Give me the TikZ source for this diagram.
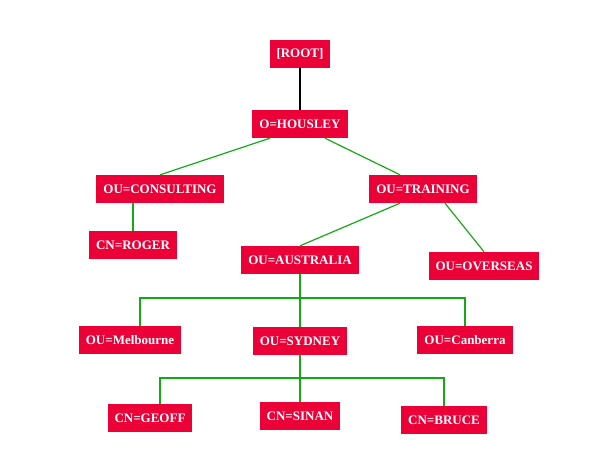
\documentclass[tikz,border=0pt]{standalone}
\usepackage{fontspec}
\setmainfont{Liberation Serif}
\usetikzlibrary{positioning}
\definecolor{dirred}{RGB}{235,0,55}
\definecolor{dirgreen}{RGB}{20,170,20}
\tikzstyle{entry} = [rectangle, fill=dirred, text=white, font=\bfseries\fontsize{13}{15}\selectfont,
    minimum height=28pt, inner xsep=7pt]
\tikzstyle{link} = [draw, dirgreen, line width=1.2pt]
\begin{document}
\begin{tikzpicture}[x=1pt, y=-1pt]
        \useasboundingbox (0,0) rectangle (600,450);
        % Entries
        \node [entry] (root) at (300,54) {[ROOT]};
        \node [entry] (housley) at (300,124) {O=HOUSLEY};
        \node [entry] (consult) at (160,189) {OU=CONSULTING};
        \node [entry] (training) at (423,189) {OU=TRAINING};
        \node [entry] (roger) at (133,245) {CN=ROGER};
        \node [entry] (aus) at (300,260) {OU=AUSTRALIA};
        \node [entry] (overseas) at (484,266) {OU=OVERSEAS};
        \node [entry] (melb) at (130,340) {OU=Melbourne};
        \node [entry] (sydney) at (300,341) {OU=SYDNEY};
        \node [entry] (canb) at (465,340) {OU=Canberra};
        \node [entry] (geoff) at (150,418) {CN=GEOFF};
        \node [entry] (sinan) at (300,416) {CN=SINAN};
        \node [entry] (bruce) at (444,420) {CN=BRUCE};

        % Connections
        \draw [line width=1.2pt] (root) -- (housley);
        \path [link] (housley.south) ++(-30,0) -- (consult.north);
        \path [link] (housley.south) ++(25,0) -- ([xshift=-23pt]training.north);
        \path [link] (roger.north) -- (roger.north |- consult.south);
        \path [link] ([xshift=-23pt]training.south) -- (aus.north);
        \path [link] ([xshift=22pt]training.south) -- (overseas.north);
        \coordinate (bus1) at (300,298);
        \coordinate (bus2) at (300,378);
        \path [link] (aus) -- (sydney);
        \path [link] (melb.north) ++(10,0) |- (bus1) -| (canb.north);
        \path [link] (sydney) -- (sinan);
        \path [link] (geoff.north) ++(10,0) |- (bus2) -| (bruce.north);
    \end{tikzpicture}
\end{document}
